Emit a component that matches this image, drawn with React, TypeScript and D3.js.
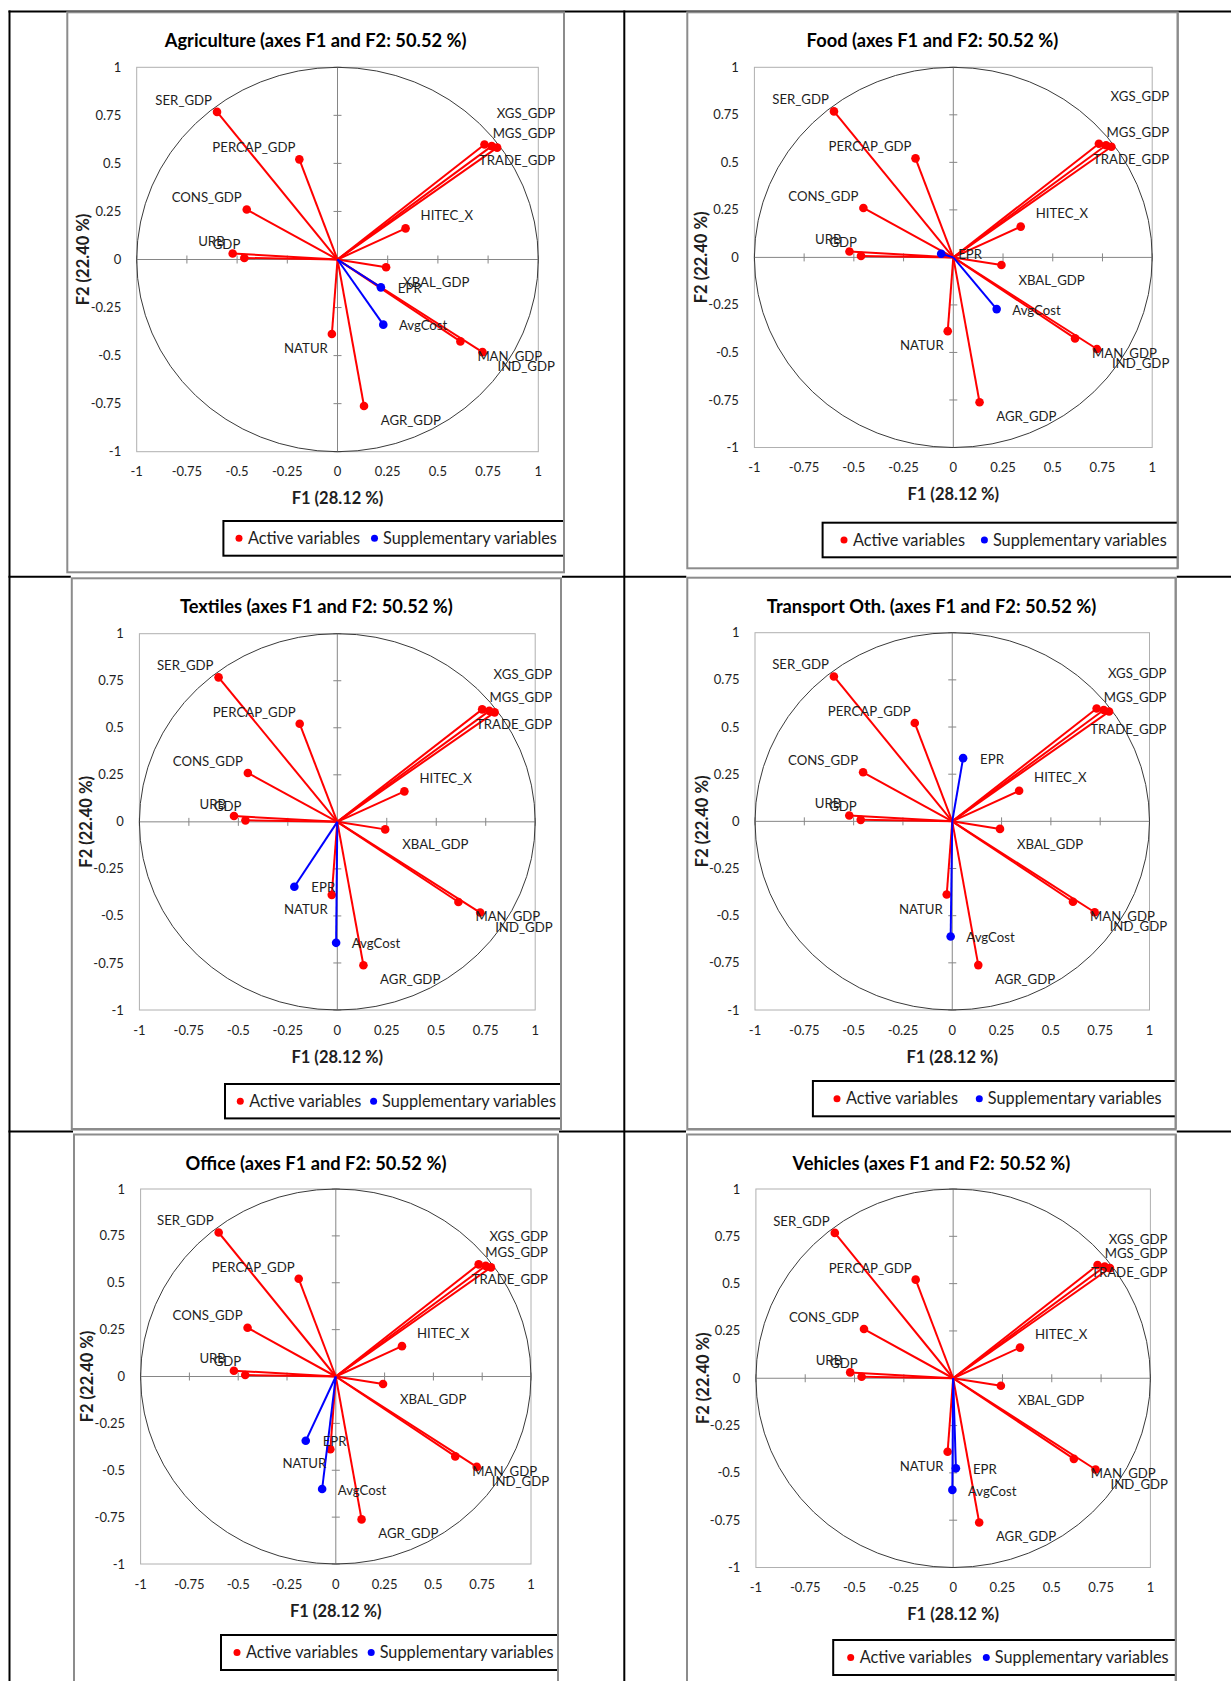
import React from 'react';
import * as d3 from 'd3';

// ---------------- data ----------------
const panelNames = ['Agriculture', 'Food', 'Textiles', 'Transport Oth.', 'Office', 'Vehicles'];
const titleSuffix = ' (axes F1 and F2: 50.52 %)';
const xAxisTitle = 'F1 (28.12 %)';
const yAxisTitle = 'F2 (22.40 %)';

const activeVars = ['SER_GDP', 'PERCAP_GDP', 'CONS_GDP', 'URB', 'GDP', 'XGS_GDP', 'MGS_GDP', 'TRADE_GDP', 'HITEC_X', 'XBAL_GDP', 'MAN_GDP', 'IND_GDP', 'NATUR', 'AGR_GDP'];
const activeF1 = [-0.600, -0.190, -0.452, -0.522, -0.464, 0.732, 0.768, 0.795, 0.339, 0.242, 0.612, 0.722, -0.028, 0.132];
const activeF2 = [0.768, 0.521, 0.260, 0.031, 0.008, 0.598, 0.590, 0.582, 0.162, -0.040, -0.426, -0.482, -0.388, -0.762];

const supVars = ['EPR', 'AvgCost'];
// one pair per panel, in panel order
const supF1 = [[0.216, 0.228], [-0.061, 0.218], [-0.217, -0.006], [0.055, -0.008], [-0.154, -0.070], [0.014, -0.004]];
const supF2 = [[-0.145, -0.339], [0.019, -0.272], [-0.345, -0.643], [0.335, -0.610], [-0.343, -0.600], [-0.476, -0.590]];

const axisTicks = [-1, -0.75, -0.5, -0.25, 0, 0.25, 0.5, 0.75, 1];
const tickLabels = ['-1', '-0.75', '-0.5', '-0.25', '0', '0.25', '0.5', '0.75', '1'];
const legendLabels = ['Active variables', 'Supplementary variables'];

// ---------------- layout (positions / styles) ----------------
type Layout = {
  chart: number[]; plot: number[];
  legend: { left: number; top: number; bottom: number; dot: number; blueDot: number };
  xgsDy: number; tradeDy: number; bgUp: number;
};
const LAYOUT: Layout[] = [
  { chart: [67.3, 12.3, 564, 572.3], plot: [136.7, 67.3, 538.3, 451.7], legend: { left: 223.4, top: 521, bottom: 555.7, dot: 239, blueDot: 374.5 }, xgsDy: -31, tradeDy: 13, bgUp: 0 },
  { chart: [687.3, 12.3, 1177.7, 568.3], plot: [754.4, 67.3, 1152.2, 447.5], legend: { left: 822.6, top: 522.7, bottom: 557.3, dot: 844, blueDot: 984.4 }, xgsDy: -47, tradeDy: 13, bgUp: 0 },
  { chart: [71.8, 578.3, 561, 1129], plot: [139.4, 633.7, 535.2, 1010], legend: { left: 225, top: 1084, bottom: 1118.4, dot: 240.3, blueDot: 373.6 }, xgsDy: -35, tradeDy: 12.5, bgUp: 4 },
  { chart: [687.3, 577.7, 1175.7, 1129], plot: [755, 632.7, 1149.5, 1010], legend: { left: 812.9, top: 1081, bottom: 1116.3, dot: 837, blueDot: 979.3 }, xgsDy: -35, tradeDy: 18, bgUp: 4 },
  { chart: [74, 1134.5, 558, 1700], plot: [140.6, 1189, 531, 1564], legend: { left: 221, top: 1635, bottom: 1670, dot: 237, blueDot: 371.2 }, xgsDy: -28, tradeDy: 12, bgUp: 4 },
  { chart: [687, 1134.5, 1175.8, 1700], plot: [755.9, 1189, 1150.4, 1567.5], legend: { left: 833.2, top: 1640, bottom: 1675, dot: 850.7, blueDot: 986.3 }, xgsDy: -25.6, tradeDy: 4, bgUp: 4 },
];

type LStyle = { anchor: 'start' | 'end'; dx: number; dy: number; edge?: boolean };
const LABEL_STYLE: Record<string, LStyle> = {
  SER_GDP: { anchor: 'end', dx: -5, dy: -12 },
  PERCAP_GDP: { anchor: 'end', dx: -4, dy: -11.5 },
  CONS_GDP: { anchor: 'end', dx: -5, dy: -12 },
  URB: { anchor: 'end', dx: -8, dy: -12 },
  GDP: { anchor: 'end', dx: -4, dy: -13.5 },
  XGS_GDP: { anchor: 'end', dx: 0, dy: 0, edge: true },
  MGS_GDP: { anchor: 'end', dx: 0, dy: -13, edge: true },
  TRADE_GDP: { anchor: 'end', dx: 0, dy: 0, edge: true },
  HITEC_X: { anchor: 'start', dx: 15, dy: -13 },
  XBAL_GDP: { anchor: 'start', dx: 17, dy: 15 },
  MAN_GDP: { anchor: 'start', dx: 17, dy: 14.6 },
  IND_GDP: { anchor: 'start', dx: 15, dy: 14.6 },
  NATUR: { anchor: 'end', dx: -4, dy: 14.5 },
  AGR_GDP: { anchor: 'start', dx: 16.7, dy: 14.3 },
  EPR: { anchor: 'start', dx: 17, dy: 1 },
  AvgCost: { anchor: 'start', dx: 15.6, dy: 1 },
};

const FONT = "Lato, 'Open Sans', 'DejaVu Sans', sans-serif";
const TEXT = '#1e1e1e';
const RED = '#ff0000';
const BLUE = '#0000ff';
const GRID = '#868686';

function Panel({ idx }: { idx: number }) {
  const L = LAYOUT[idx];
  const [cx0, cy0, cx1, cy1] = L.chart;
  const [pl, pt, pr, pb] = L.plot;
  const x = d3.scaleLinear().domain([-1, 1]).range([pl, pr]);
  const y = d3.scaleLinear().domain([-1, 1]).range([pb, pt]);
  const ox = x(0), oy = y(0);
  const line = d3.line<[number, number]>().x(d => x(d[0])).y(d => y(d[1]));

  const act = activeVars.map((n, i) => ({ name: n, f1: activeF1[i], f2: activeF2[i] }));
  const sup = supVars.map((n, i) => ({ name: n, f1: supF1[idx][i], f2: supF2[idx][i] }));

  const labelPos = (name: string, f1: number, f2: number) => {
    const s = LABEL_STYLE[name];
    const px = x(f1), py = y(f2);
    if (s.edge) {
      const dy = name === 'XGS_GDP' ? L.xgsDy : name === 'TRADE_GDP' ? L.tradeDy : s.dy;
      return { x: x(1) + 17, y: py + dy, anchor: 'end' };
    }
    return { x: px + s.dx, y: py + s.dy, anchor: s.anchor };
  };

  const lg = L.legend;
  const lgMid = (lg.top + lg.bottom) / 2;
  const clipId = `clip-${idx}`;

  return (
    <g>
      <defs>
        <clipPath id={clipId}>
          <rect x={cx0} y={cy0} width={cx1 - cx0} height={cy1 - cy0} />
        </clipPath>
      </defs>
      <rect x={cx0 - 1} y={cy0 - L.bgUp} width={cx1 - cx0 + 2} height={cy1 - cy0 + L.bgUp} fill="#fff" />
      <rect x={cx0} y={cy0} width={cx1 - cx0} height={cy1 - cy0} fill="#fff" stroke="#8c8c8c" strokeWidth={2} />
      {/* title */}
      <text x={(cx0 + cx1) / 2} y={cy0 + 35} textAnchor="middle" fontFamily={FONT} fontWeight={700} fontSize={18.3} fill="#000">
        {panelNames[idx] + titleSuffix}
      </text>
      {/* plot area */}
      <rect x={pl} y={pt} width={pr - pl} height={pb - pt} fill="#fff" stroke="#b0b0b0" strokeWidth={1} />
      <line x1={ox} x2={ox} y1={pt} y2={pb} stroke={GRID} strokeWidth={1} />
      <line x1={pl} x2={pr} y1={oy} y2={oy} stroke={GRID} strokeWidth={1} />
      {axisTicks.map((t, i) => (
        <g key={'t' + i}>
          <line x1={x(t)} x2={x(t)} y1={oy - 4} y2={oy + 4} stroke={GRID} strokeWidth={1} />
          <line x1={ox - 4} x2={ox + 4} y1={y(t)} y2={y(t)} stroke={GRID} strokeWidth={1} />
          <text x={x(t)} y={pb + 20} dy="0.35em" textAnchor="middle" fontFamily={FONT} fontSize={13} fill={TEXT}>{tickLabels[i]}</text>
          <text x={pl - 15.5} y={y(t)} dy="0.35em" textAnchor="end" fontFamily={FONT} fontSize={13} fill={TEXT}>{tickLabels[i]}</text>
        </g>
      ))}
      {/* correlation circle */}
      <ellipse cx={ox} cy={oy} rx={(pr - pl) / 2} ry={(pb - pt) / 2} fill="none" stroke="#3a3a3a" strokeWidth={1} />
      {/* active vectors */}
      {act.map(d => (
        <g key={d.name}>
          <path d={line([[0, 0], [d.f1, d.f2]]) || ''} stroke={RED} strokeWidth={2} fill="none" />
          <circle cx={x(d.f1)} cy={y(d.f2)} r={4.3} fill={RED} />
        </g>
      ))}
      {/* supplementary vectors */}
      {sup.map(d => (
        <g key={d.name}>
          <path d={line([[0, 0], [d.f1, d.f2]]) || ''} stroke={BLUE} strokeWidth={2} fill="none" />
          <circle cx={x(d.f1)} cy={y(d.f2)} r={4.3} fill={BLUE} />
        </g>
      ))}
      {/* labels */}
      {[...act, ...sup].map(d => {
        const p = labelPos(d.name, d.f1, d.f2);
        return (
          <text key={'l' + d.name} x={p.x} y={p.y} dy="0.35em" textAnchor={p.anchor as any} fontFamily={FONT} fontSize={13.2} fill={TEXT}>{d.name}</text>
        );
      })}
      {/* axis titles */}
      <text x={(pl + pr) / 2} y={pb + 47} dy="0.35em" textAnchor="middle" fontFamily={FONT} fontWeight={700} fontSize={16.5} fill={TEXT}>{xAxisTitle}</text>
      <text transform={`translate(${pl - 53},${(pt + pb) / 2}) rotate(-90)`} dy="0.35em" textAnchor="middle" fontFamily={FONT} fontWeight={700} fontSize={16.5} fill={TEXT}>{yAxisTitle}</text>
      {/* legend (clipped by chart area) */}
      <g clipPath={`url(#${clipId})`}>
        <rect x={lg.left} y={lg.top} width={cx1 - lg.left + 40} height={lg.bottom - lg.top} fill="#fff" stroke="#000" strokeWidth={2} />
        <circle cx={lg.dot} cy={lgMid} r={3.5} fill={RED} />
        <text x={lg.dot + 9} y={lgMid} dy="0.35em" fontFamily={FONT} fontSize={16.3} fill={TEXT}>{legendLabels[0]}</text>
        <circle cx={lg.blueDot} cy={lgMid} r={3.5} fill={BLUE} />
        <text x={lg.blueDot + 8.5} y={lgMid} dy="0.35em" fontFamily={FONT} fontSize={16.3} fill={TEXT}>{legendLabels[1]}</text>
      </g>
      <line x1={cx1} x2={cx1} y1={cy0} y2={cy1} stroke="#8c8c8c" strokeWidth={2} />
    </g>
  );
}

export default function App() {
  const W = 1231, H = 1681;
  const rowLines = [11.5, 576.7, 1131.5];
  return (
    <svg width={W} height={H} viewBox={`0 0 ${W} ${H}`} style={{ position: 'absolute', left: 0, top: 0, display: 'block', background: '#fff' }}>
      <rect x={0} y={0} width={W} height={H} fill="#fff" />
      {/* table grid */}
      {rowLines.map((ry, i) => (
        <line key={'r' + i} x1={8.5} x2={W} y1={ry} y2={ry} stroke="#000" strokeWidth={2} />
      ))}
      <line x1={9.5} x2={9.5} y1={10.5} y2={H} stroke="#000" strokeWidth={2} />
      <line x1={624.3} x2={624.3} y1={10.5} y2={H} stroke="#000" strokeWidth={2} />
      {panelNames.map((_, i) => <Panel key={i} idx={i} />)}
    </svg>
  );
}
